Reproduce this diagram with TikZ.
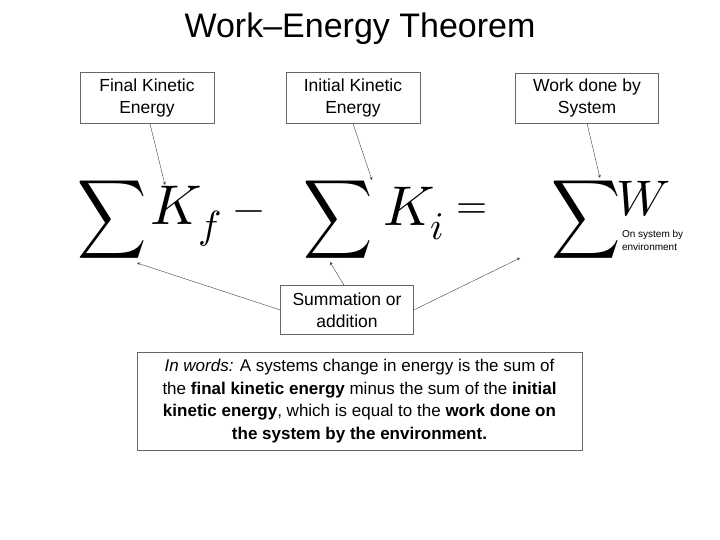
\documentclass[tikz,border=0pt]{standalone}
\usepackage{fontspec}
\setmainfont{Liberation Sans}
\usepackage{unicode-math}
\usetikzlibrary{positioning}
\tikzset{
  label box/.style={draw=black!60,fill=white,align=center,font=\fontsize{17.5}{22}\selectfont,inner sep=3pt},
  big math/.style={font=\fontsize{56}{60}\selectfont,inner sep=0pt},
  mid math/.style={font=\fontsize{40}{44}\selectfont,inner sep=0pt},
  big sum/.style={font=\fontsize{48}{52}\selectfont,inner sep=0pt},
  pointer/.style={->,>=stealth,black!75,thin}
}
\begin{document}
\begin{tikzpicture}[x=1pt,y=-1pt]
\useasboundingbox (0,0) rectangle (720,539);
\node[font=\fontsize{34}{38}\selectfont] (title) at (360,29) {Work–Energy Theorem};
% label boxes
\node[label box,minimum width=134,minimum height=51] (fin) at (147,98) {Final Kinetic\\Energy};
\node[label box,minimum width=134,minimum height=51] (ini) at (353,98) {Initial Kinetic\\Energy};
\node[label box,minimum width=143,minimum height=50] (wrk) at (587,98) {Work done by\\System};
% the equation
\node[big sum] (s1) at (112,220) {\scalebox{1}[1.15]{$\displaystyle\sum$}};
\node[big math] (kf) at (186,216) {$K_f$};
\node[mid math] (mn) at (249,216) {$-$};
\node[big sum] (s2) at (338,220) {\scalebox{1}[1.15]{$\displaystyle\sum$}};
\node[big math] (ki) at (414,214) {$K_i$};
\node[mid math] (eq) at (472,211) {$=$};
\node[big sum] (s3) at (586,220) {\scalebox{1}[1.15]{$\displaystyle\sum$}};
\node[big math,font=\fontsize{50}{54}\selectfont] (w) at (643,199) {$W$};
\node[font=\fontsize{10}{13}\selectfont,align=left,anchor=west,inner sep=1pt] (sub) at (s3.east |- 0,240) {On system by\\environment};
\coordinate (tf) at (165,185);
\coordinate (ti) at (372,180);
\coordinate (tw) at (600,178);
\draw[pointer] (fin.south) ++(3,0) -- (tf);
\draw[pointer] (ini.south) -- (ti);
\draw[pointer] (wrk.south) -- (tw);
% summation box
\node[label box,minimum width=133,minimum height=49] (sum) at (347,310) {Summation or\\addition};
\coordinate (a1) at (137,263);
\coordinate (a2) at (330,262);
\coordinate (a3) at (520,258);
\draw[pointer] (sum.west) -- (a1);
\draw[pointer] (sum.north) ++(-3,0) -- (a2);
\draw[pointer] (sum.east) -- (a3);
% words
\node[label box,minimum width=445,minimum height=98,font=\fontsize{17}{22.5}\selectfont] (words) at (359.5,401) {\textit{In words:} A systems change in energy is the sum of\\
the \textbf{final kinetic energy} minus the sum of the \textbf{initial}\\
\textbf{kinetic energy}, which is equal to the \textbf{work done on}\\
\textbf{the system by the environment.}};
\end{tikzpicture}
\end{document}
